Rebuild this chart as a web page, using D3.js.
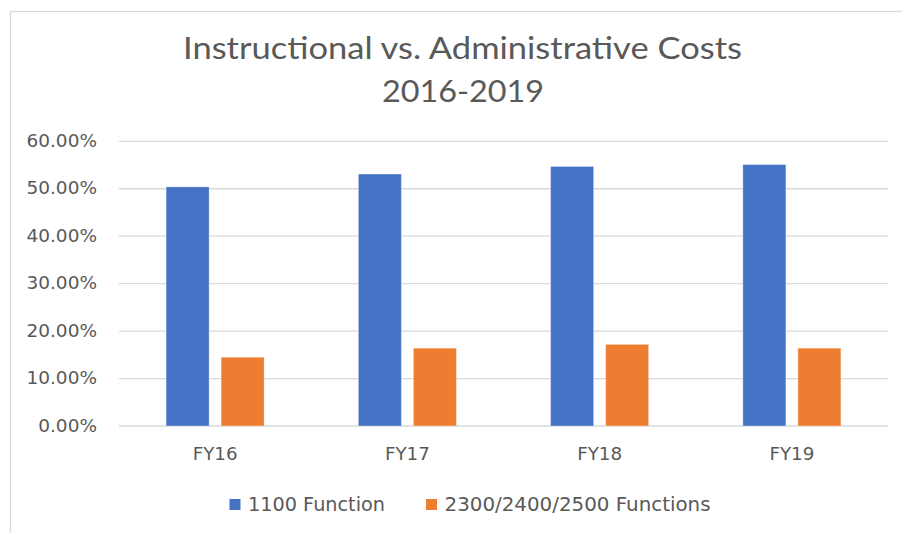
<!DOCTYPE html>
<html>
<head>
<meta charset="utf-8">
<script src="https://cdn.jsdelivr.net/npm/d3@7"></script>
<style>
  body { margin: 0; background: #fff; }
  text { fill: #595959; }
</style>
</head>
<body>
<div class="chart"></div>
<script>
var years = ["FY16", "FY17", "FY18", "FY19"];
var seriesNames = ["1100 Function", "2300/2400/2500 Functions"];
var instructional = [50.4, 53.1, 54.7, 55.1];
var administrative = [14.5, 16.4, 17.2, 16.4];
var yTicks = [0, 10, 20, 30, 40, 50, 60];
var colors = ["#4472C4", "#ED7D31"];

var width = 902;
var height = 533;

var svg = d3
  .select(".chart")
  .append("svg")
  .attr("width", width)
  .attr("height", height);

// chart area frame
svg
  .append("rect")
  .attr("x", 10.5)
  .attr("y", 11.5)
  .attr("width", 1000)
  .attr("height", 1000)
  .style("fill", "none")
  .style("stroke", "#D9D9D9")
  .style("stroke-width", 1.3);

// title
svg
  .append("text")
  .text("Instructional vs. Administrative Costs")
  .attr("x", 462.5)
  .attr("y", 59)
  .attr("text-anchor", "middle")
  .attr("textLength", 559)
  .attr("lengthAdjust", "spacingAndGlyphs")
  .style("font-family", "Lato")
  .style("font-size", "31px");

svg
  .append("text")
  .text("2016-2019")
  .attr("x", 463)
  .attr("y", 101.5)
  .attr("text-anchor", "middle")
  .attr("textLength", 162)
  .attr("lengthAdjust", "spacingAndGlyphs")
  .style("font-family", "Lato")
  .style("font-size", "31px");

var x0 = d3
  .scaleBand()
  .domain(years)
  .range([119, 888])
  .paddingInner(0.49)
  .paddingOuter(0.245);

var x1 = d3
  .scaleBand()
  .domain([0, 1])
  .range([0, x0.bandwidth()])
  .paddingInner(0.218);

var y = d3.scaleLinear().domain([0, 60]).range([426, 141.3]);

// gridlines
svg
  .append("g")
  .selectAll("line")
  .data(yTicks)
  .enter()
  .append("line")
  .attr("x1", 119)
  .attr("x2", 888)
  .attr("y1", function (d) { return y(d); })
  .attr("y2", function (d) { return y(d); })
  .style("stroke", "#D9D9D9")
  .style("stroke-width", 1.3);

// y axis labels
svg
  .append("g")
  .selectAll("text")
  .data(yTicks)
  .enter()
  .append("text")
  .text(function (d) { return d.toFixed(2) + "%"; })
  .attr("x", 97)
  .attr("y", function (d) { return y(d); })
  .attr("dy", "0.3em")
  .attr("text-anchor", "end")
  .style("font-family", "DejaVu Sans")
  .style("font-size", "18.5px");

// bars
var rows = years.map(function (yr, i) {
  return { year: yr, values: [instructional[i], administrative[i]] };
});

var groups = svg
  .append("g")
  .selectAll("g")
  .data(rows)
  .enter()
  .append("g")
  .attr("transform", function (d) { return "translate(" + x0(d.year) + ",0)"; });

groups
  .selectAll("rect")
  .data(function (d) { return d.values; })
  .enter()
  .append("rect")
  .attr("x", function (d, i) { return x1(i); })
  .attr("width", x1.bandwidth())
  .attr("y", function (d) { return y(d); })
  .attr("height", function (d) { return y(0) - y(d); })
  .style("fill", function (d, i) { return colors[i]; })
  .style("stroke", "#ffffff")
  .style("stroke-opacity", 0.35)
  .style("stroke-width", 1);

// x axis labels
svg
  .append("g")
  .selectAll("text")
  .data(years)
  .enter()
  .append("text")
  .text(function (d) { return d; })
  .attr("x", function (d) { return x0(d) + x0.bandwidth() / 2; })
  .attr("y", 460)
  .attr("text-anchor", "middle")
  .style("font-family", "DejaVu Sans")
  .style("font-size", "18.3px");

// legend
var legendX = [229.5, 426];
var legendTextLen = [137, 266];
var legend = svg
  .append("g")
  .selectAll("g")
  .data(seriesNames)
  .enter()
  .append("g")
  .attr("transform", function (d, i) { return "translate(" + legendX[i] + ",499)"; });

legend
  .append("rect")
  .attr("width", 11)
  .attr("height", 11)
  .style("fill", function (d, i) { return colors[i]; });

legend
  .append("text")
  .text(function (d) { return d; })
  .attr("x", 18.5)
  .attr("y", 12)
  .attr("textLength", function (d, i) { return legendTextLen[i]; })
  .attr("lengthAdjust", "spacingAndGlyphs")
  .style("font-family", "DejaVu Sans")
  .style("font-size", "19px");
</script>
</body>
</html>
